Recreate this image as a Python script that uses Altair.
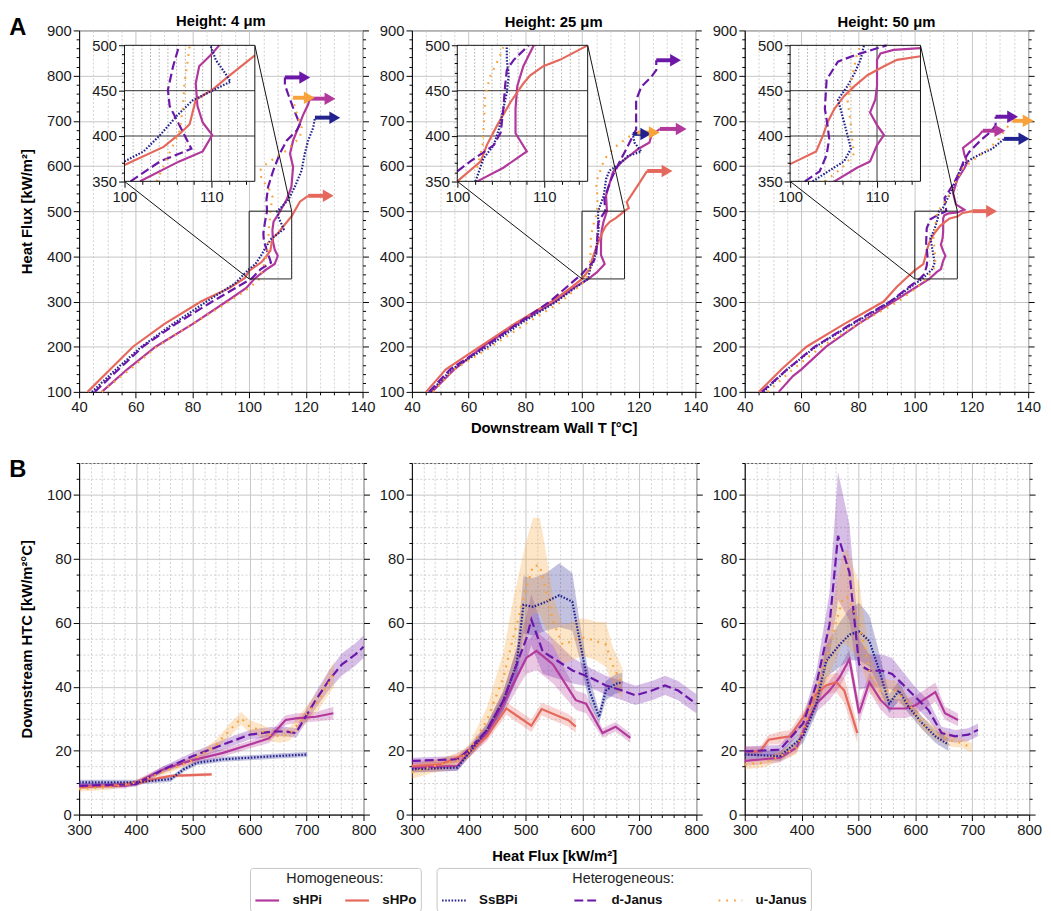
import altair as alt
import pandas as pd

FONT = "Liberation Sans"

SERIES = ["sHPi", "sHPo", "SsBPi", "d-Janus", "u-Janus"]
HOMO = ["sHPi", "sHPo"]
HETERO = ["SsBPi", "d-Janus", "u-Janus"]
COLOR = {"sHPi": "#b2389c", "sHPo": "#e5685d", "SsBPi": "#23238f", "d-Janus": "#6b17a8", "u-Janus": "#f7a23a"}
DASH = {"SsBPi": [1.6, 1.6], "d-Janus": [9, 4], "u-Janus": [1.8, 6]}

HEIGHTS = ["4", "25", "50"]
PANEL_TITLES = ["Height: 4 \u03bcm", "Height: 25 \u03bcm", "Height: 50 \u03bcm"]

# ---------------- Panel A: (wall T [°C], heat flux [kW/m2]) ----------------
# below the zoom window
A_LOW = {
    "4": {
        "sHPi": [(48, 100), (57, 150), (67, 200), (80, 250), (92, 300), (99, 330)],
        "sHPo": [(43, 100), (51, 150), (59, 200), (70, 250), (83, 300), (93, 330), (98.5, 352)],
        "SsBPi": [(44.5, 100), (53, 150), (62, 200), (73, 250), (85, 300), (95, 340)],
        "d-Janus": [(45.5, 100), (54, 150), (62.5, 200), (74, 250), (87, 300), (96, 333)],
        "u-Janus": [(48, 100), (58, 150), (67.5, 200), (80, 250), (93, 300), (100, 330)],
    },
    "25": {
        "sHPi": [(47, 100), (55, 150), (65, 200), (77, 250), (90.5, 300), (97, 330)],
        "sHPo": [(45, 100), (52, 150), (64, 200), (76, 250), (89.3, 300), (96, 330)],
        "SsBPi": [(46.5, 100), (54, 150), (66.8, 200), (78, 250), (91, 300), (97.5, 330)],
        "d-Janus": [(46, 100), (53.5, 150), (65.7, 200), (77, 250), (88.7, 300), (97, 345)],
        "u-Janus": [(47.5, 100), (55, 150), (68, 200), (80, 250), (92.8, 300), (101, 345)],
    },
    "50": {
        "sHPi": [(52, 100), (57, 135), (60, 150), (68.7, 200), (80, 250), (92.5, 300), (100, 330)],
        "sHPo": [(45, 100), (53, 150), (61.8, 200), (75, 250), (89, 300), (93.6, 332), (97, 352)],
        "SsBPi": [(46.5, 100), (55, 150), (65, 200), (78, 250), (91.5, 300), (98, 330)],
        "d-Janus": [(46, 100), (55, 150), (64.7, 200), (77.5, 250), (91.3, 300), (97.5, 330)],
        "u-Janus": [(48, 100), (57, 150), (67, 200), (80, 250), (94.2, 300), (100.5, 330)],
    },
}
# inside the zoom window (also shown in the inset)
A_ZOOM = {
    "4": {
        "sHPi": [(101.8, 350), (106.3, 372), (109, 383), (110.1, 401), (109, 415), (108.4, 433), (108.2, 458), (108.6, 477), (110.1, 491), (110.9, 500)],
        "sHPo": [(100, 368), (104.5, 388), (106.3, 402), (107.5, 413), (108.2, 440), (110.1, 451), (112, 466), (115, 489)],
        "SsBPi": [(100, 372), (102.2, 383), (104.1, 401), (106, 422), (107.8, 439), (110.1, 450), (112.2, 460), (111.6, 469), (110.5, 484), (109.9, 500)],
        "d-Janus": [(100.7, 350), (104.1, 372), (107.7, 386), (105.2, 433), (105, 451), (105.6, 477), (106.3, 500)],
        "u-Janus": [(103.7, 350), (105.6, 390), (106.3, 404), (106.7, 430), (106.9, 458), (107.3, 484), (107.5, 500)],
    },
    "25": {
        "sHPi": [(102.3, 350), (105.3, 365), (108, 383), (106.7, 403), (106.7, 430), (106.9, 455), (107.6, 477), (108.8, 500)],
        "sHPo": [(100, 350), (102.7, 372), (103.4, 390), (104.6, 412), (106.1, 437), (107.6, 458), (108.4, 467), (109.9, 477), (111.8, 484), (115, 500)],
        "SsBPi": [(102.1, 350), (103, 375), (104.2, 390), (104.8, 408), (105.3, 430), (105.7, 448), (105.9, 466), (105.7, 484), (105.7, 500)],
        "d-Janus": [(100, 361), (101.5, 372), (104.2, 390), (105, 404), (105.3, 430), (105.5, 455), (105.7, 473), (106.5, 484), (108.2, 500)],
        "u-Janus": [(102.3, 365), (102.9, 390), (103.1, 419), (103.2, 444), (103.8, 466), (104.8, 486), (105.3, 498)],
    },
    "50": {
        "sHPi": [(105.1, 350), (107.7, 365), (109.2, 372), (110, 390), (110.8, 401), (110, 412), (109.2, 426), (109.8, 440), (110, 455), (110, 484), (110.4, 491), (111.9, 495), (115, 497)],
        "sHPo": [(100, 369), (103, 383), (103.8, 401), (104.3, 415), (105.1, 430), (106.2, 444), (107.4, 455), (108.9, 467), (110.8, 477), (112.3, 484), (115, 488)],
        "SsBPi": [(102.6, 350), (104.7, 363), (106.2, 372), (107, 386), (106.6, 401), (105.8, 430), (105.5, 440), (106.6, 455), (107.4, 469), (108.1, 484), (108.5, 500)],
        "d-Janus": [(101.7, 350), (103.4, 361), (104.2, 379), (104.5, 397), (104.3, 412), (104, 430), (104.2, 462), (105.5, 482), (107.4, 489), (111.1, 500)],
        "u-Janus": [(104, 350), (106, 365), (107.4, 381), (107.2, 390), (107, 412), (106.6, 440), (107.4, 477), (107.7, 491), (108.1, 500)],
    },
}
# above the zoom window
A_HIGH = {
    "4": {
        "sHPi": [(113.2, 525), (114.9, 554), (115.5, 598), (114.4, 627), (115.5, 656), (117.3, 685), (119.1, 714), (120.8, 736), (121.4, 749)],
        "sHPo": [(117.9, 521), (120.8, 534)],
        "SsBPi": [(111.5, 510), (113.8, 525), (116.1, 554), (118.5, 590), (119.6, 627), (120.8, 656), (122.6, 685), (123.2, 707)],
        "d-Janus": [(106.1, 525), (106.7, 554), (108.5, 590), (110.8, 627), (113.2, 656), (116.7, 678), (117.9, 692), (115.5, 729), (113.8, 758), (112.6, 780), (112.6, 796)],
        "u-Janus": [(108.2, 532), (106.7, 554), (104.4, 569), (103.8, 590), (106.1, 605), (109.6, 620), (113.2, 634), (115.5, 649), (117.9, 663), (118.5, 685), (117.3, 707), (116.1, 729), (115.5, 751)],
    },
    "25": {
        "sHPi": [(108.5, 535), (110.9, 586), (113.8, 608), (117.4, 626), (119.7, 637), (123.8, 652), (124.4, 666), (125.6, 673), (127.5, 682)],
        "sHPo": [(116.5, 507), (115.8, 520), (119.7, 557), (123, 589)],
        "SsBPi": [(107.7, 535), (108.5, 571), (109.7, 590), (112.6, 601), (116.2, 622), (120.9, 632), (118.5, 652), (117.9, 671)],
        "d-Janus": [(107.9, 528), (110.3, 571), (112.6, 601), (115.6, 637), (117.9, 666), (119.1, 681), (119.1, 703), (119.1, 746), (120.9, 775), (124.4, 797), (126.2, 812), (126.2, 834)],
        "u-Janus": [(105.5, 528), (105, 564), (107.9, 615), (111.5, 641), (114.4, 655), (116.8, 666), (119.5, 674)],
    },
    "50": {
        "sHPi": [(117.5, 503), (114.5, 515), (113.5, 540), (115, 570), (117.5, 595), (118.5, 608), (117.5, 625), (117, 640), (119.5, 652), (122.5, 667), (124, 678)],
        "sHPo": [(116.9, 496), (120.3, 500)],
        "SsBPi": [(109.9, 507), (112.2, 536), (115.7, 587), (116.9, 602), (120.3, 617), (123.8, 628), (127.3, 638), (130.2, 653), (131.5, 660)],
        "d-Janus": [(110.5, 529), (113.4, 558), (115.1, 577), (116.3, 595), (117.4, 613), (119.2, 631), (121.5, 646), (123.8, 660), (126.7, 675), (128.5, 690), (128.5, 709)],
        "u-Janus": [(111.6, 529), (116.9, 595), (119.2, 606), (126.2, 639), (129.7, 660), (132, 682), (134.3, 697), (134.5, 700)],
    },
}
# CHF arrows: (T at line end, T at arrow tip, heat flux)
A_ARROWS = {
    "4": {"sHPi": (121.4, 128.5, 749), "sHPo": (120.8, 127.9, 534), "SsBPi": (123.2, 130.2, 707), "d-Janus": (112.6, 119.6, 796), "u-Janus": (115.5, 121.2, 751)},
    "25": {"sHPi": (127.5, 135, 682), "sHPo": (123, 130, 589), "SsBPi": (117.9, 122.5, 671), "d-Janus": (126.2, 133, 834), "u-Janus": (119.5, 125.5, 674)},
    "50": {"sHPi": (124, 130, 678), "sHPo": (120.3, 127.1, 500), "SsBPi": (131.5, 138.5, 660), "d-Janus": (128.5, 134.5, 709), "u-Janus": (134.5, 140, 700)},
}

# ---------------- Panel B: (heat flux, HTC mean, band half-width) ----------------
B_DATA = {
    "4": {
        "sHPi": [(300, 9, 0.8), (380, 9, 0.8), (400, 10, 0.8), (449, 14.2, 1), (495, 16.8, 1), (553, 19.3, 1.2), (600, 21.9, 1.2), (634, 23.9, 1.5), (663, 29.6, 1.5), (681, 30.1, 1.5), (716, 30.6, 1.5), (747, 31.7, 2)],
        "sHPo": [(300, 8.5, 0.5), (400, 9.6, 0.5), (432, 11.1, 0.5), (461, 12.1, 0.5), (533, 12.6, 0.5)],
        "SsBPi": [(300, 10.1, 0.8), (400, 10.1, 0.8), (461, 11.1, 0.8), (484, 14.2, 0.8), (507, 16.2, 0.8), (553, 17.3, 0.8), (600, 17.8, 0.8), (646, 18.3, 0.8), (701, 18.8, 0.8)],
        "d-Janus": [(300, 9, 0.8), (400, 9.5, 0.8), (449, 14.2, 1), (500, 18.3, 1.2), (553, 21.9, 1.5), (600, 25, 1.5), (640, 26, 1.5), (663, 26, 1.5), (681, 25.5, 1.5), (698, 30.6, 2), (716, 35.8, 2.5), (739, 42, 3), (762, 47, 3.5), (785, 50, 3.5), (800, 52.5, 3.5)],
        "u-Janus": [(300, 8, 0.8), (350, 8.5, 0.8), (400, 10, 0.8), (450, 13.5, 1), (500, 17, 1), (541, 21.9, 1.5), (565, 26.5, 2), (585, 30.1, 2), (600, 27.5, 2), (617, 26.5, 2), (634, 25, 2), (652, 24.5, 2), (669, 25, 2), (701, 31.7, 2.5), (721, 35.8, 3), (748, 44, 4)],
    },
    "25": {
        "sHPi": [(300, 14.7, 1.5), (380, 15.2, 1.5), (400, 19.3, 1.5), (432, 25.5, 2), (461, 34.7, 3), (484, 43, 4), (501, 49, 5), (519, 51.2, 6), (548, 47, 6), (588, 35.8, 3), (606, 34.7, 3), (635, 25.5, 1.5), (658, 27.5, 1.5), (684, 24, 1.5)],
        "sHPo": [(300, 15.2, 1.5), (350, 15.7, 1.5), (400, 19.3, 1.5), (432, 24.5, 1.5), (466, 33.2, 2), (510, 27.8, 2), (528, 33, 2), (555, 31, 2), (575, 29.5, 2), (588, 27.5, 2)],
        "SsBPi": [(300, 14.2, 1), (380, 14.7, 1), (432, 26.5, 2), (461, 35.8, 3), (484, 47, 5), (496, 65.6, 9), (513, 65, 9), (536, 66.6, 9), (559, 68.6, 10), (582, 66.6, 9), (594, 55.3, 6), (612, 38.8, 4), (629, 30.6, 2), (641, 38.8, 3), (658, 40.9, 3), (670, 41.4, 3)],
        "d-Janus": [(300, 16.8, 1), (380, 17.3, 1), (400, 20.3, 1.2), (432, 26.5, 2), (461, 35.8, 3), (484, 47, 5), (501, 55, 7), (510, 61, 8), (530, 51, 7), (548, 49, 6), (583, 45, 4), (612, 43, 3), (641, 40.4, 3), (670, 38.8, 3), (693, 37.3, 3), (722, 38.8, 3), (745, 40.4, 3), (768, 38.8, 3), (791, 35.8, 3), (800, 34.7, 3)],
        "u-Janus": [(300, 13.2, 2), (339, 15.2, 2), (379, 16.8, 2), (400, 19.8, 2), (432, 29.6, 4), (461, 43, 8), (478, 55.3, 12), (501, 70.7, 15), (513, 77.9, 15), (525, 77.9, 15), (536, 69.7, 12), (548, 60.4, 8), (565, 53.2, 6), (583, 54.3, 6), (594, 55.3, 6), (606, 55.3, 6), (623, 54.3, 6), (641, 53.2, 7), (652, 47, 6), (670, 40.9, 5)],
    },
    "50": {
        "sHPi": [(300, 16.8, 1.5), (333, 17.3, 1.5), (362, 17.8, 1.5), (391, 20.9, 1.5), (409, 28.6, 2), (426, 34.7, 2.5), (449, 38.8, 3), (467, 43, 3), (484, 48.6, 3), (501, 31.7, 3), (519, 41.4, 3), (539, 35.8, 3), (554, 33.2, 3), (583, 33.2, 3), (600, 34.2, 3), (635, 38.3, 3), (652, 31.7, 2), (675, 29.6, 2)],
        "sHPo": [(300, 19.8, 1.5), (327, 19.8, 1.5), (342, 23.4, 1.5), (362, 24, 2), (380, 24.5, 2), (403, 30.6, 2), (426, 37.8, 2.5), (443, 40.4, 3), (461, 41.4, 3), (475, 38.8, 4), (498, 25.5, 3)],
        "SsBPi": [(300, 18.8, 1.5), (362, 18.3, 1.5), (403, 24.5, 2), (426, 34.7, 3), (443, 48, 5), (467, 53.2, 7), (484, 56.3, 8), (501, 57.3, 9), (519, 54.3, 8), (533, 47, 6), (554, 34.7, 3), (571, 38.8, 3), (588, 33.7, 2), (612, 28.6, 2), (635, 24.5, 2), (658, 21.9, 2)],
        "d-Janus": [(300, 19.8, 1.5), (362, 20.3, 1.5), (403, 28.6, 2), (426, 40.9, 4), (449, 59.4, 10), (464, 87.2, 20), (484, 75.8, 15), (501, 47, 8), (519, 45, 5), (542, 45, 5), (559, 44, 5), (577, 40.9, 4), (600, 36.8, 3), (623, 32.7, 3), (646, 25.5, 2), (670, 24.5, 2), (693, 25, 2), (710, 26.5, 2)],
        "u-Janus": [(300, 15.7, 1.5), (333, 16.2, 1.5), (362, 18.3, 1.5), (391, 20.9, 2), (414, 31.7, 3), (438, 45, 6), (455, 56.3, 10), (472, 67.6, 14), (480, 68, 15), (501, 60.4, 12), (519, 45, 6), (536, 38.8, 4), (565, 38.8, 3), (588, 34.7, 2), (612, 28.6, 2), (635, 25.5, 2), (658, 23.4, 2), (681, 22.4, 1.5), (699, 20.9, 1.5)],
    },
}

# ---------------- axes / layout ----------------
A_X, A_Y = [40, 140], [100, 900]
A_XTICKS = list(range(40, 141, 5))
A_YTICKS = list(range(100, 901, 20))
ZOOM_X, ZOOM_Y = [100, 115], [350, 500]
INSET_XTICKS = list(range(100, 115, 2))
INSET_YTICKS = list(range(350, 501, 10))
INSET_XGRID_MINOR = [v for v in range(101, 115) if v != 110]
INSET_XGRID_MAJOR = [110]
INSET_YGRID_MAJOR = [400, 450]
INSET_AT_X, INSET_AT_Y = [56, 102], [566, 867]   # where the inset sits, in main-axis units
B_X, B_Y = [300, 800], [0, 110]
B_XTICKS = list(range(300, 801, 20))
B_YTICKS = list(range(0, 111, 5))

W_A, H_A = 287, 366
W_B, H_B = 288, 356


def px_x(v):
    return (v - A_X[0]) / (A_X[1] - A_X[0]) * W_A


def px_y(v):
    return (A_Y[1] - v) / (A_Y[1] - A_Y[0]) * H_A


def cond(test, major, minor):
    return {"condition": {"test": test, "value": major}, "value": minor}


# ---------------- data frames ----------------
def a_frame(parts):
    rows = []
    for h in HEIGHTS:
        for s in SERIES:
            pts = []
            for part in parts:
                pts += part[h][s]
            for i, (t, q) in enumerate(pts):
                rows.append({"panel": h, "series": s, "idx": i, "T": t, "q": q})
    return pd.DataFrame(rows)


a_main = a_frame([A_LOW, A_ZOOM, A_HIGH])
a_inset = a_frame([A_ZOOM])
a_arrows = pd.DataFrame([
    {"panel": h, "series": s, "T0": A_ARROWS[h][s][0], "T1": A_ARROWS[h][s][1], "q": A_ARROWS[h][s][2]}
    for h in HEIGHTS for s in SERIES
])
b_df = pd.DataFrame([
    {"panel": h, "series": s, "q": q, "mean": m, "lo": m - d, "hi": m + d}
    for h in HEIGHTS for s in SERIES for (q, m, d) in B_DATA[h][s]
])
box_df = pd.DataFrame({"x0": [ZOOM_X[0]], "x1": [ZOOM_X[1]], "y0": [ZOOM_Y[0]], "y1": [ZOOM_Y[1]]})
conn_df = pd.DataFrame({"x0": [ZOOM_X[0], ZOOM_X[1]], "x1": [INSET_AT_X[0], INSET_AT_X[1]],
                        "y0": [ZOOM_Y[0], ZOOM_Y[1]], "y1": [INSET_AT_Y[0], INSET_AT_Y[1]]})
ixminor_df = pd.DataFrame({"v": INSET_XGRID_MINOR, "lo": ZOOM_Y[0], "hi": ZOOM_Y[1]})
ixmajor_df = pd.DataFrame({"v": INSET_XGRID_MAJOR, "lo": ZOOM_Y[0], "hi": ZOOM_Y[1]})
iymajor_df = pd.DataFrame({"v": INSET_YGRID_MAJOR, "lo": ZOOM_X[0], "hi": ZOOM_X[1]})

# ---------------- scales / legends ----------------
LEG = dict(orient="none", direction="horizontal", symbolType="stroke", symbolSize=576, symbolStrokeWidth=2.2,
           labelFont=FONT, labelFontSize=13.5, labelFontWeight="bold", labelColor="#111",
           titleFont=FONT, titleFontSize=14.5, titleFontWeight="normal", titleColor="#222", titleAnchor="middle",
           strokeColor="#c4c4c4", fillColor="white", padding=4, labelOffset=12, titlePadding=1, cornerRadius=3)
HOM_LEGEND = alt.Legend(title="Homogeneous:", columns=2, columnPadding=18, legendX=173, legendY=848, **LEG)
HET_LEGEND = alt.Legend(title="Heterogeneous:", columns=3, columnPadding=52, legendX=362, legendY=848, **LEG)

HOM_COLOR = alt.Color("series:N", scale=alt.Scale(domain=HOMO, range=[COLOR[s] for s in HOMO]), legend=HOM_LEGEND)
HET_STROKE = alt.Stroke("series:N", scale=alt.Scale(domain=HETERO, range=[COLOR[s] for s in HETERO]), legend=HET_LEGEND)
HET_DASH = alt.StrokeDash("series:N", scale=alt.Scale(domain=HETERO, range=[DASH[s] for s in HETERO]), legend=HET_LEGEND)
FILL = alt.Fill("series:N", scale=alt.Scale(domain=SERIES, range=[COLOR[s] for s in SERIES]), legend=None)


def letter(txt, dx, dy):
    return alt.Chart(pd.DataFrame({"t": [txt]})).mark_text(
        font=FONT, fontSize=24, fontWeight="bold", align="center", baseline="middle", color="#000"
    ).encode(x=alt.value(dx), y=alt.value(dy), text="t:N")


def panel_a(i, h):
    m20, m100 = "datum.value % 20 === 0", "datum.value % 100 === 0"
    xa = alt.Axis(values=A_XTICKS, labelExpr=f"{m20} ? datum.label : ''", labelOverlap=False,
                  tickSize=cond(m20, 6, 3), gridColor=cond(m20, "#c6c6c6", "#d0d0d0"),
                  gridDash=cond(m20, [], [2, 2]), titlePadding=6,
                  title=("Downstream Wall T [\u00b0C]" if i == 1 else None))
    ya = alt.Axis(values=A_YTICKS, labelExpr=f"{m100} ? datum.label : ''", labelOverlap=False,
                  tickSize=cond(m100, 6, 3), gridColor="#c6c6c6", gridOpacity=cond(m100, 1, 0),
                  titlePadding=12, title=("Heat Flux [kW/m\u00b2]" if i == 0 else None))
    xs = alt.Scale(domain=A_X, nice=False, zero=False)
    ys = alt.Scale(domain=A_Y, nice=False, zero=False)

    def X(f):
        return alt.X(f"{f}:Q", scale=xs, axis=xa)

    def Y(f):
        return alt.Y(f"{f}:Q", scale=ys, axis=ya)

    ln = a_main[a_main.panel == h]
    ar = a_arrows[a_arrows.panel == h]
    main = alt.layer(
        alt.Chart(ln[ln.series.isin(HOMO)]).mark_line(strokeWidth=2.2).encode(
            x=X("T"), y=Y("q"), color=HOM_COLOR, order=alt.Order("idx:Q")),
        alt.Chart(ln[ln.series.isin(HETERO)]).mark_line(strokeWidth=2.2).encode(
            x=X("T"), y=Y("q"), stroke=HET_STROKE, strokeDash=HET_DASH, order=alt.Order("idx:Q")),
        alt.Chart(ar[ar.series.isin(HOMO)]).mark_rule(strokeWidth=4).encode(
            x=X("T0"), x2=alt.X2("T1:Q"), y=Y("q"), color=HOM_COLOR),
        alt.Chart(ar[ar.series.isin(HETERO)]).mark_rule(strokeWidth=4).encode(
            x=X("T0"), x2=alt.X2("T1:Q"), y=Y("q"), stroke=HET_STROKE),
        alt.Chart(ar).mark_point(shape="triangle-right", filled=True, size=160, opacity=1).encode(
            x=X("T1"), y=Y("q"), fill=FILL),
        alt.Chart(box_df).mark_rect(fillOpacity=0, stroke="#222", strokeWidth=1).encode(
            x=X("x0"), x2=alt.X2("x1:Q"), y=Y("y0"), y2=alt.Y2("y1:Q")),
        alt.Chart(conn_df).mark_rule(color="#111", strokeWidth=1).encode(
            x=X("x0"), x2=alt.X2("x1:Q"), y=Y("y0"), y2=alt.Y2("y1:Q")),
    )

    m10, m50 = "datum.value % 10 === 0", "datum.value % 50 === 0"
    ixa = alt.Axis(orient="bottom", offset=px_y(INSET_AT_Y[0]) - H_A, values=INSET_XTICKS,
                   labelExpr=f"{m10} ? datum.label : ''", labelOverlap=False, tickSize=cond(m10, 6, 3),
                   grid=False, domain=False, title=None, zindex=1)
    iya = alt.Axis(orient="left", offset=-px_x(INSET_AT_X[0]), values=INSET_YTICKS,
                   labelExpr=f"{m50} ? datum.label : ''", labelOverlap=False, tickSize=cond(m50, 6, 3),
                   grid=False, domain=False, title=None, zindex=1)
    ixs = alt.Scale(domain=ZOOM_X, range=[px_x(INSET_AT_X[0]), px_x(INSET_AT_X[1])], nice=False, zero=False)
    iys = alt.Scale(domain=ZOOM_Y, range=[px_y(INSET_AT_Y[0]), px_y(INSET_AT_Y[1])], nice=False, zero=False)

    def IX(f):
        return alt.X(f"{f}:Q", scale=ixs, axis=ixa)

    def IY(f):
        return alt.Y(f"{f}:Q", scale=iys, axis=iya)

    il = a_inset[a_inset.panel == h]
    inset = alt.layer(
        alt.Chart(box_df).mark_rect(fill="white", strokeOpacity=0).encode(
            x=IX("x0"), x2=alt.X2("x1:Q"), y=IY("y0"), y2=alt.Y2("y1:Q")),
        alt.Chart(ixminor_df).mark_rule(color="#aaaaaa", strokeDash=[1.5, 2], strokeWidth=1).encode(
            x=IX("v"), y=IY("lo"), y2=alt.Y2("hi:Q")),
        alt.Chart(ixmajor_df).mark_rule(color="#333333", strokeWidth=1).encode(
            x=IX("v"), y=IY("lo"), y2=alt.Y2("hi:Q")),
        alt.Chart(iymajor_df).mark_rule(color="#333333", strokeWidth=1).encode(
            y=IY("v"), x=IX("lo"), x2=alt.X2("hi:Q")),
        alt.Chart(il[il.series.isin(HOMO)]).mark_line(strokeWidth=2.2).encode(
            x=IX("T"), y=IY("q"), color=HOM_COLOR, order=alt.Order("idx:Q")),
        alt.Chart(il[il.series.isin(HETERO)]).mark_line(strokeWidth=2.2).encode(
            x=IX("T"), y=IY("q"), stroke=HET_STROKE, strokeDash=HET_DASH, order=alt.Order("idx:Q")),
        alt.Chart(box_df).mark_rect(fillOpacity=0, stroke="#111", strokeWidth=1).encode(
            x=IX("x0"), x2=alt.X2("x1:Q"), y=IY("y0"), y2=alt.Y2("y1:Q")),
    )

    right = alt.Chart(pd.DataFrame({"q": [A_Y[0]]})).mark_rule(opacity=0).encode(
        y=alt.Y("q:Q", scale=alt.Scale(domain=A_Y, nice=False, zero=False),
                axis=alt.Axis(orient="right", values=A_YTICKS, labels=False, domain=False, grid=False,
                              tickSize=cond(m100, 6, 3), title=None)))
    layers = [main, inset, right]
    if i == 0:
        layers.append(letter("A", -62, -2))
    return alt.layer(*layers).resolve_scale(x="independent", y="independent").properties(
        width=W_A, height=H_A,
        title=alt.TitleParams(PANEL_TITLES[i], font=FONT, fontSize=15, fontWeight="bold",
                              offset=(-13 if i == 0 else -7), frame="group"))


def panel_b(i, h):
    m20, m100 = "datum.value % 20 === 0", "datum.value % 100 === 0"
    xa = alt.Axis(values=B_XTICKS, labelExpr=f"{m100} ? datum.label : ''", labelOverlap=False,
                  tickSize=cond(m100, 6, 3), gridColor=cond(m100, "#c6c6c6", "#d0d0d0"),
                  gridDash=cond(m100, [], [2, 2]), titlePadding=12,
                  title=("Heat Flux [kW/m\u00b2]" if i == 1 else None))
    ya = alt.Axis(values=B_YTICKS, labelExpr=f"{m20} && datum.value <= 100 ? datum.label : ''",
                  labelOverlap=False, tickSize=cond(m20, 6, 3), gridColor=cond(m20, "#c6c6c6", "#d0d0d0"),
                  gridDash=cond(m20, [], [2, 2]), titlePadding=12,
                  title=("Downstream HTC [kW/m\u00b2\u00b0C]" if i == 0 else None))
    xs = alt.Scale(domain=B_X, nice=False, zero=False)
    ys = alt.Scale(domain=B_Y, nice=False, zero=False)

    def X(f):
        return alt.X(f"{f}:Q", scale=xs, axis=xa)

    def Y(f):
        return alt.Y(f"{f}:Q", scale=ys, axis=ya)

    d = b_df[b_df.panel == h]
    main = alt.layer(
        alt.Chart(d).mark_area(opacity=0.28).encode(x=X("q"), y=Y("lo"), y2=alt.Y2("hi:Q"), fill=FILL),
        alt.Chart(d[d.series.isin(HOMO)]).mark_line(strokeWidth=2.2).encode(
            x=X("q"), y=Y("mean"), color=HOM_COLOR),
        alt.Chart(d[d.series.isin(HETERO)]).mark_line(strokeWidth=2.2).encode(
            x=X("q"), y=Y("mean"), stroke=HET_STROKE, strokeDash=HET_DASH),
    )
    right = alt.Chart(pd.DataFrame({"v": [B_Y[0]]})).mark_rule(opacity=0).encode(
        y=alt.Y("v:Q", scale=alt.Scale(domain=B_Y, nice=False, zero=False),
                axis=alt.Axis(orient="right", values=B_YTICKS, labels=False, domain=False, grid=False,
                              tickSize=cond(m20, 6, 3), title=None)))
    layers = [main, right]
    if i == 0:
        layers.append(letter("B", -62, 7))
    return alt.layer(*layers).resolve_scale(y="independent").properties(width=W_B, height=H_B)


panels = [panel_a(i, h) for i, h in enumerate(HEIGHTS)] + [panel_b(i, h) for i, h in enumerate(HEIGHTS)]

chart = alt.concat(
    *panels, columns=3, spacing={"row": 19, "column": 1}, align="each", padding=0
).configure(font=FONT).configure_view(stroke="#555", strokeWidth=1).configure_axis(
    labelFont=FONT, titleFont=FONT, labelFontSize=15, titleFontSize=15, titleFontWeight="bold",
    labelColor="#1a1a1a", titleColor="#000", domainColor="#000", tickColor="#000",
    domainWidth=1, tickWidth=1, gridWidth=1, labelPadding=2, labelFlush=False
).configure_title(font=FONT, fontSize=15, fontWeight="bold", color="#000")

chart.save("out.html", embed_options={"renderer": "svg", "actions": False})
